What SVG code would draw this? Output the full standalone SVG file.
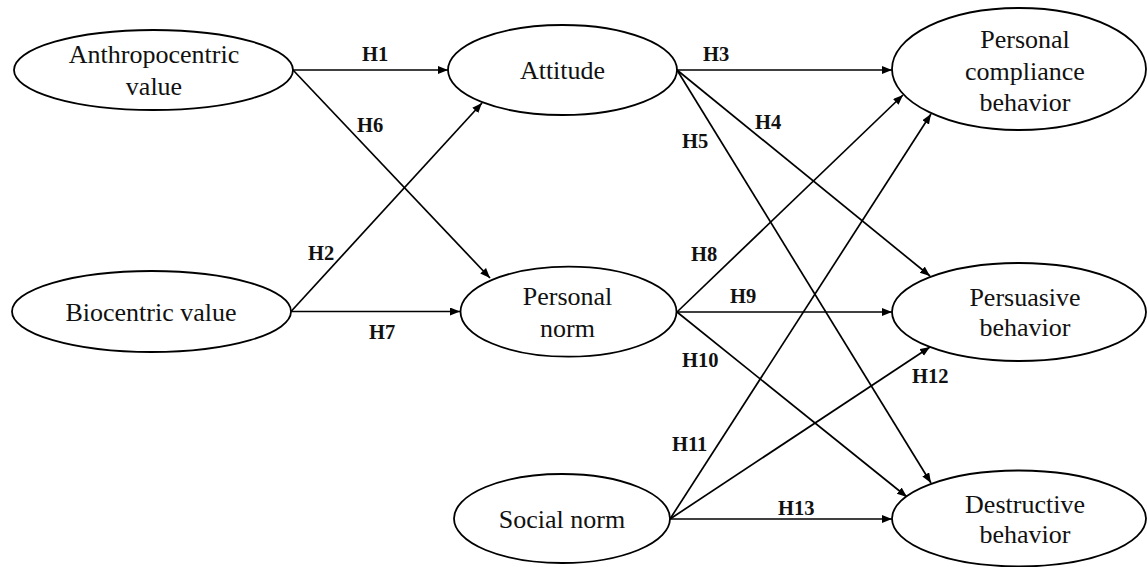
<svg xmlns="http://www.w3.org/2000/svg" width="1147" height="567" viewBox="0 0 1147 567">
<style>
.node ellipse{fill:#fff;stroke:#000;stroke-width:1.8}
.node text{font-family:'Liberation Serif','DejaVu Serif',serif;font-size:26px;fill:#111;text-anchor:middle}
.conn line{stroke:#000;stroke-width:1.7}
.lbl{font-family:'Liberation Serif','DejaVu Serif',serif;font-size:20.5px;font-weight:bold;fill:#111}
</style>
<defs>
<marker id="ah" markerUnits="userSpaceOnUse" markerWidth="11" markerHeight="9" refX="10" refY="4" orient="auto">
<path d="M0,0 L10,4 L0,8 z" fill="#000"/>
</marker>
</defs>
<rect width="1147" height="567" fill="#fff"/>
<g id="connectors" class="conn">
<line x1="293" y1="70" x2="448" y2="70" marker-end="url(#ah)"/>
<line x1="293" y1="70" x2="490" y2="278" marker-end="url(#ah)"/>
<line x1="291" y1="311.5" x2="482" y2="103" marker-end="url(#ah)"/>
<line x1="291" y1="311.5" x2="460" y2="311.5" marker-end="url(#ah)"/>
<line x1="677" y1="70" x2="892" y2="70" marker-end="url(#ah)"/>
<line x1="677" y1="70" x2="930" y2="276" marker-end="url(#ah)"/>
<line x1="677" y1="70" x2="931" y2="483" marker-end="url(#ah)"/>
<line x1="677" y1="312" x2="903" y2="95" marker-end="url(#ah)"/>
<line x1="677" y1="312" x2="892" y2="312" marker-end="url(#ah)"/>
<line x1="677" y1="312" x2="907" y2="497" marker-end="url(#ah)"/>
<line x1="670" y1="519" x2="931" y2="114" marker-end="url(#ah)"/>
<line x1="670" y1="519" x2="930" y2="347" marker-end="url(#ah)"/>
<line x1="670" y1="519" x2="892" y2="519" marker-end="url(#ah)"/>
</g>
<g id="labels">
<text class="lbl" x="362" y="61">H1</text>
<text class="lbl" x="357" y="132">H6</text>
<text class="lbl" x="308" y="260">H2</text>
<text class="lbl" x="369" y="339">H7</text>
<text class="lbl" x="703" y="61">H3</text>
<text class="lbl" x="755" y="129">H4</text>
<text class="lbl" x="682" y="148">H5</text>
<text class="lbl" x="691" y="261">H8</text>
<text class="lbl" x="730" y="303">H9</text>
<text class="lbl" x="682" y="367">H10</text>
<text class="lbl" x="672" y="451">H11</text>
<text class="lbl" x="912" y="383">H12</text>
<text class="lbl" x="778" y="515">H13</text>
</g>
<g id="anthropocentric" class="node">
<ellipse cx="153.5" cy="70" rx="139.5" ry="40"/>
<text x="154" y="63">Anthropocentric</text>
<text x="154" y="95">value</text>
</g>
<g id="biocentric" class="node">
<ellipse cx="151.5" cy="311.5" rx="139.5" ry="40.5"/>
<text x="151" y="321">Biocentric value</text>
</g>
<g id="attitude" class="node">
<ellipse cx="562.5" cy="70" rx="114.5" ry="45"/>
<text x="562.5" y="79">Attitude</text>
</g>
<g id="personal-norm" class="node">
<ellipse cx="568.5" cy="311.7" rx="108" ry="45"/>
<text x="567.5" y="305">Personal</text>
<text x="567.5" y="337">norm</text>
</g>
<g id="social-norm" class="node">
<ellipse cx="562" cy="518.5" rx="108" ry="44.5"/>
<text x="562" y="528">Social norm</text>
</g>
<g id="compliance" class="node">
<ellipse cx="1019" cy="69" rx="127" ry="61"/>
<text x="1025" y="48">Personal</text>
<text x="1025" y="80">compliance</text>
<text x="1025" y="111">behavior</text>
</g>
<g id="persuasive" class="node">
<ellipse cx="1019" cy="312" rx="127" ry="49"/>
<text x="1025" y="306">Persuasive</text>
<text x="1025" y="336">behavior</text>
</g>
<g id="destructive" class="node">
<ellipse cx="1019" cy="518.5" rx="127" ry="48"/>
<text x="1025" y="513">Destructive</text>
<text x="1025" y="543">behavior</text>
</g>
</svg>
